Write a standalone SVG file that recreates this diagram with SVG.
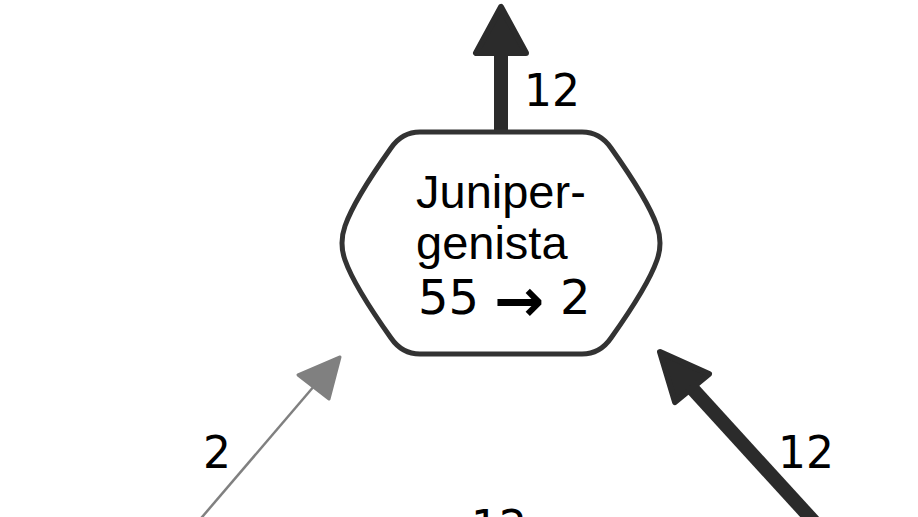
<svg xmlns="http://www.w3.org/2000/svg" width="918" height="517" viewBox="0 0 918 517">
<style>
.lbl{font-family:"DejaVu Sans",sans-serif;font-size:44px;fill:#000}
.ntext{font-family:"Liberation Sans",Arial,sans-serif;font-size:47px;fill:#000}
.nnum{font-family:"DejaVu Sans",sans-serif;font-size:48px;fill:#000}
.arr{font-size:60px;font-weight:bold}
.node{fill:#fff;stroke:#333;stroke-width:5}
.dark{stroke:#2b2b2b;fill:#2b2b2b;stroke-linejoin:round}
.gray{stroke:#808080;fill:#808080;stroke-linejoin:round}
</style>
<rect width="918" height="517" fill="#fff"/>
<g id="connectors">
<g id="edge-out">
<line class="dark" x1="501" y1="134" x2="501" y2="50" stroke-width="14"/>
<polygon class="dark" points="501,7 476,53 526,53" stroke-width="6"/>
<text class="lbl" x="524" y="106">12</text>
</g>
<g id="edge-left">
<line class="gray" x1="191" y1="530" x2="315" y2="385" stroke-width="2.5"/>
<polygon class="gray" points="340,357 298,375 329,399" stroke-width="3"/>
<text class="lbl" x="203" y="468">2</text>
</g>
<g id="edge-right">
<line class="dark" x1="827" y1="536" x2="690" y2="386" stroke-width="14"/>
<polygon class="dark" points="660,352 709,374 675,402" stroke-width="6"/>
<text class="lbl" x="778" y="468">12</text>
</g>
<g id="edge-bottom">
<text class="lbl" x="471" y="542">12</text>
</g>
</g>
<g id="node-juniper-genista">
<path class="node" d="M 420 132 L 582 132 Q 600 132 611 148 Q 648 200 657 226 Q 663 243 657 260 Q 648 286 611 338 Q 600 354 582 354 L 420 354 Q 402 354 391 338 Q 354 286 345 260 Q 339 243 345 226 Q 354 200 391 148 Q 402 132 420 132 Z"/>
<text class="ntext" x="416" y="208">Juniper-</text>
<text class="ntext" x="416" y="259">genista</text>
<text class="nnum" x="418" y="314">55 <tspan class="arr" dy="7">→</tspan><tspan dy="-7"> 2</tspan></text>
</g>
</svg>
